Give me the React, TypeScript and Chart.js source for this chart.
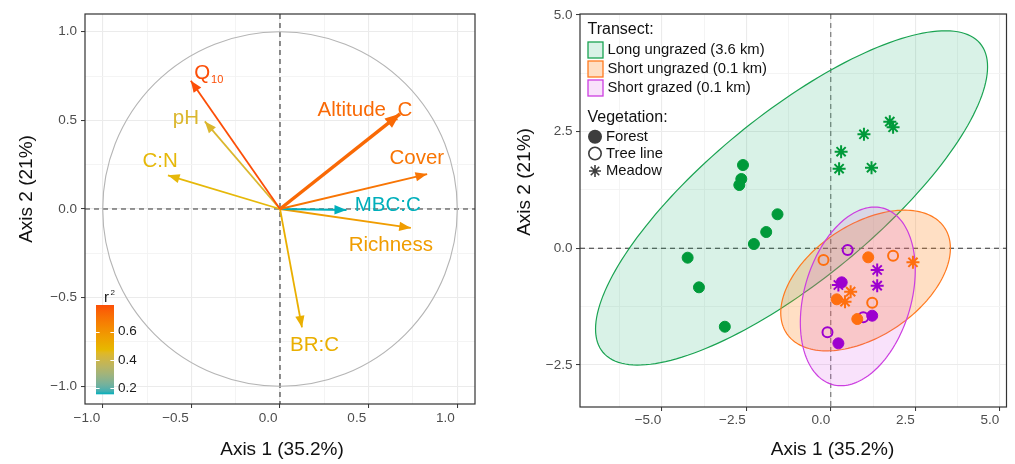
import React, { useEffect, useRef } from "react";
import { Chart, registerables } from "chart.js";

Chart.register(...registerables);

const FONT = "'Liberation Sans', Arial, Helvetica, sans-serif";

// ---------------- Left panel: variable loadings ----------------
const varNames = ["Q10", "pH", "C:N", "Altitude_C", "Cover", "MBC:C", "Richness", "BR:C"];
const varAxis1 = [-0.503, -0.424, -0.632, 0.677, 0.83, 0.375, 0.738, 0.124];
const varAxis2 = [0.724, 0.494, 0.19, 0.537, 0.197, -0.005, -0.107, -0.668];
const varR2 = [0.789, 0.44, 0.47, 0.726, 0.694, 0.158, 0.568, 0.505];
const labelAxis1 = [-0.402, -0.531, -0.676, 0.479, 0.772, 0.608, 0.625, 0.195];
const labelAxis2 = [0.777, 0.513, 0.267, 0.558, 0.285, 0.023, -0.203, -0.769];
const arrowWidths = [1.8, 1.8, 1.8, 3.5, 1.8, 2.0, 1.8, 1.8];
const loadingTicks = [-1, -0.5, 0, 0.5, 1];
const loadingMinorTicks = [-0.75, -0.25, 0.25, 0.75];
const r2Ticks = [0.2, 0.4, 0.6];
const gradientColors = ["#00AFBB", "#E7B800", "#FC4E07"];

// ---------------- Right panel: site scores ----------------
const transects = ["Long ungrazed (3.6 km)", "Short ungrazed (0.1 km)", "Short grazed (0.1 km)"];
const vegetationTypes = ["Forest", "Tree line", "Meadow"];
const siteAxis1 = [
  -2.597, -2.647, -2.706, -1.576, -1.91, -2.274, -4.235, -3.9, -3.135,
  0.306, 0.247, 0.982, 1.206, 1.747, 1.844,
  1.109, 0.177, 0.785, -0.215, 1.844, 1.226, 2.432, 0.588, 0.422,
  0.324, 1.226, 0.226, 0.5, 0.962, -0.097, 1.374, 1.374, 0.226,
];
const siteAxis2 = [
  1.784, 1.485, 1.356, 0.729, 0.349, 0.092, -0.201, -0.836, -1.68,
  2.07, 1.706, 2.443, 1.727, 2.713, 2.593,
  -0.193, -1.093, -1.515, -0.251, -0.158, -1.165, -0.3, -0.929, -1.143,
  -0.729, -1.444, -2.036, -0.036, -1.479, -1.8, -0.465, -0.8, -0.786,
];
const siteTransect = [
  0, 0, 0, 0, 0, 0, 0, 0, 0,
  0, 0, 0, 0, 0, 0,
  1, 1, 1, 1, 1, 1, 1, 1, 1,
  2, 2, 2, 2, 2, 2, 2, 2, 2,
];
const siteVegetation = [
  0, 0, 0, 0, 0, 0, 0, 0, 0,
  2, 2, 2, 2, 2, 2,
  0, 0, 0, 1, 1, 1, 2, 2, 2,
  0, 0, 0, 1, 1, 1, 2, 2, 2,
];
// 95% ellipses: centre and two conjugate semi-diameters (data units)
const ellipseCentreX = [-1.16, 1.03, 0.8];
const ellipseCentreY = [1.08, -0.69, -1.03];
const ellipseUX = [5.8, 2.51, 1.7];
const ellipseUY = [2.81, 0.69, 0.56];
const ellipseVX = [0, 0, 0];
const ellipseVY = [2.22, 1.34, 1.83];
const scoreXTicks = [-5, -2.5, 0, 2.5, 5];
const scoreXMinorTicks = [-6.25, -3.75, -1.25, 1.25, 3.75];
const scoreYTicks = [-2.5, 0, 2.5, 5];
const scoreYMinorTicks = [-1.25, 1.25, 3.75];

// styles
const transectColors = ["#009a3a", "#ff6f0f", "#9d00cf"];
const ellipseStrokes = ["#1aa352", "#ff7a1f", "#cc3ee0"];
const ellipseFills = ["rgba(0,168,95,0.15)", "rgba(255,128,20,0.25)", "rgba(215,60,225,0.15)"];

// ---------- colour helpers (Lab interpolation, like ggplot gradientn) ----------
function hexToRgb(h: string) {
  const n = parseInt(h.slice(1), 16);
  return [(n >> 16) & 255, (n >> 8) & 255, n & 255];
}
const toLin = (c: number) => {
  c /= 255;
  return c <= 0.04045 ? c / 12.92 : Math.pow((c + 0.055) / 1.055, 2.4);
};
const fromLin = (c: number) => {
  const v = c <= 0.0031308 ? 12.92 * c : 1.055 * Math.pow(Math.max(c, 0), 1 / 2.4) - 0.055;
  return Math.round(Math.min(1, Math.max(0, v)) * 255);
};
function rgbToLab(rgb: number[]) {
  const [r, g, b] = rgb.map(toLin);
  const X = (0.4124 * r + 0.3576 * g + 0.1805 * b) / 0.95047;
  const Y = 0.2126 * r + 0.7152 * g + 0.0722 * b;
  const Z = (0.0193 * r + 0.1192 * g + 0.9505 * b) / 1.08883;
  const f = (t: number) => (t > 0.008856 ? Math.cbrt(t) : 7.787 * t + 16 / 116);
  const fx = f(X), fy = f(Y), fz = f(Z);
  return [116 * fy - 16, 500 * (fx - fy), 200 * (fy - fz)];
}
function labToRgb(lab: number[]) {
  const [L, a, b] = lab;
  const fy = (L + 16) / 116, fx = fy + a / 500, fz = fy - b / 200;
  const inv = (t: number) => (t * t * t > 0.008856 ? t * t * t : (t - 16 / 116) / 7.787);
  const X = inv(fx) * 0.95047, Y = inv(fy), Z = inv(fz) * 1.08883;
  const r = 3.2406 * X - 1.5372 * Y - 0.4986 * Z;
  const g = -0.9689 * X + 1.8758 * Y + 0.0415 * Z;
  const bb = 0.0557 * X - 0.204 * Y + 1.057 * Z;
  return [fromLin(r), fromLin(g), fromLin(bb)];
}
const r2Min = Math.min(...varR2);
const r2Max = Math.max(...varR2);
function r2Color(v: number) {
  const n = gradientColors.length;
  const t = Math.min(1, Math.max(0, (v - r2Min) / (r2Max - r2Min))) * (n - 1);
  const i = Math.min(n - 2, Math.floor(t));
  const f = t - i;
  const a = rgbToLab(hexToRgb(gradientColors[i]));
  const b = rgbToLab(hexToRgb(gradientColors[i + 1]));
  const c = labToRgb([0, 1, 2].map((k) => a[k] + (b[k] - a[k]) * f));
  return `rgb(${c[0]},${c[1]},${c[2]})`;
}

// ---------- axis helper ----------
const fmt = (v: number) => (v < 0 ? "\u2212" : "") + Math.abs(v).toFixed(1);
function axis(
  min: number, max: number, major: number[], minor: number[], size: number,
  horizontal: boolean, pad: number, labelOffset = 0,
) {
  const isMajor = (v: number) => major.some((m) => Math.abs(m - v) < 1e-9);
  const all = [...major, ...minor].sort((a, b) => a - b);
  return {
    type: "linear",
    min,
    max,
    bounds: "data",
    afterBuildTicks: (s: any) => {
      s.ticks = all.map((v) => ({ value: v }));
    },
    afterFit: (s: any) => {
      if (horizontal) s.height = size;
      else s.width = size;
    },
    border: { display: false },
    grid: {
      color: (c: any) => (c.tick && isMajor(c.tick.value) ? "#ebebeb" : "#f3f3f3"),
      lineWidth: (c: any) => (c.tick && isMajor(c.tick.value) ? 1.1 : 0.9),
      tickColor: (c: any) => (c.tick && isMajor(c.tick.value) ? "#333333" : "rgba(0,0,0,0)"),
      tickLength: 4,
      tickWidth: 1,
      drawTicks: true,
    },
    ticks: {
      autoSkip: false,
      maxRotation: 0,
      minRotation: 0,
      padding: pad,
      align: horizontal ? "end" : "center",
      labelOffset,
      color: "#4d4d4d",
      font: { size: 13.5, family: FONT },
      callback: (v: number) => (isMajor(v) ? fmt(v) : ""),
    },
  };
}

function drawText(ctx: CanvasRenderingContext2D, text: string, x: number, y: number, size: number, color: string, align: CanvasTextAlign = "center", rot = 0) {
  ctx.save();
  ctx.translate(x, y);
  if (rot) ctx.rotate(rot);
  ctx.font = `${size}px ${FONT}`;
  ctx.fillStyle = color;
  ctx.textAlign = align;
  ctx.textBaseline = "middle";
  ctx.fillText(text, 0, 0);
  ctx.restore();
}

function drawPanelBorder(chart: any) {
  const { ctx, chartArea: a } = chart;
  ctx.save();
  ctx.strokeStyle = "#333333";
  ctx.lineWidth = 1.2;
  ctx.strokeRect(a.left, a.top, a.right - a.left, a.bottom - a.top);
  ctx.restore();
}

function drawZeroLines(chart: any, vColor: string, hColor: string) {
  const { ctx, chartArea: a, scales } = chart;
  const x0 = scales.x.getPixelForValue(0);
  const y0 = scales.y.getPixelForValue(0);
  ctx.save();
  ctx.setLineDash([5, 4]);
  ctx.lineWidth = 1.1;
  ctx.strokeStyle = vColor;
  ctx.beginPath();
  ctx.moveTo(x0, a.top);
  ctx.lineTo(x0, a.bottom);
  ctx.stroke();
  ctx.strokeStyle = hColor;
  ctx.beginPath();
  ctx.moveTo(a.left, y0);
  ctx.lineTo(a.right, y0);
  ctx.stroke();
  ctx.restore();
}

// ---------- left chart plugin ----------
const loadingsPlugin = {
  id: "loadings",
  beforeDatasetsDraw(chart: any) {
    const { ctx, scales } = chart;
    const { x, y } = scales;
    drawZeroLines(chart, "#333333", "#333333");
    // correlation circle
    const cx = x.getPixelForValue(0), cy = y.getPixelForValue(0);
    ctx.save();
    ctx.strokeStyle = "#b5b5b5";
    ctx.lineWidth = 1.1;
    ctx.beginPath();
    ctx.ellipse(cx, cy, x.getPixelForValue(1) - cx, cy - y.getPixelForValue(1), 0, 0, Math.PI * 2);
    ctx.stroke();
    ctx.restore();
    // labels
    varNames.forEach((name, i) => {
      const px = x.getPixelForValue(labelAxis1[i]);
      const py = y.getPixelForValue(labelAxis2[i]);
      const col = r2Color(varR2[i]);
      const m = name.match(/^([A-Za-z]+)(\d+)$/);
      if (m) {
        ctx.save();
        ctx.font = `20.5px ${FONT}`;
        const w1 = ctx.measureText(m[1]).width;
        ctx.font = `11px ${FONT}`;
        const w2 = ctx.measureText(m[2]).width;
        const left = px - (w1 + w2 + 1) / 2;
        ctx.fillStyle = col;
        ctx.textBaseline = "alphabetic";
        ctx.textAlign = "left";
        ctx.font = `20.5px ${FONT}`;
        ctx.fillText(m[1], left, py + 7.3);
        ctx.font = `11px ${FONT}`;
        ctx.fillText(m[2], left + w1 + 1, py + 11.5);
        ctx.restore();
      } else {
        drawText(ctx, name, px, py, 20.5, col);
      }
    });
  },
  afterDatasetsDraw(chart: any) {
    const { ctx } = chart;
    // arrow heads
    chart.data.datasets.forEach((ds: any, i: number) => {
      const meta = chart.getDatasetMeta(i);
      const p0 = meta.data[0], p1 = meta.data[1];
      const ang = Math.atan2(p1.y - p0.y, p1.x - p0.x);
      const len = 8 + 2 * ds.borderWidth;
      const hw = len * 0.4;
      ctx.save();
      ctx.translate(p1.x, p1.y);
      ctx.rotate(ang);
      ctx.fillStyle = ds.borderColor;
      ctx.beginPath();
      ctx.moveTo(0, 0);
      ctx.lineTo(-len, -hw);
      ctx.lineTo(-len, hw);
      ctx.closePath();
      ctx.fill();
      ctx.restore();
    });
  },
  afterDraw(chart: any) {
    const { ctx } = chart;
    drawPanelBorder(chart);
    // colour bar legend for r2
    const bx = 96, bw = 18, top = 305, bottom = 394.3;
    const vy = (v: number) => bottom - ((v - r2Min) / (r2Max - r2Min)) * (bottom - top);
    const grad = ctx.createLinearGradient(0, bottom, 0, top);
    for (let k = 0; k <= 30; k++) {
      const v = r2Min + ((r2Max - r2Min) * k) / 30;
      grad.addColorStop(k / 30, r2Color(v));
    }
    ctx.save();
    ctx.fillStyle = grad;
    ctx.fillRect(bx, top, bw, bottom - top);
    ctx.strokeStyle = "#ffffff";
    ctx.lineWidth = 1;
    r2Ticks.forEach((t) => {
      const yy = Math.round(vy(t)) + 0.5;
      ctx.beginPath();
      ctx.moveTo(bx, yy);
      ctx.lineTo(bx + 3.6, yy);
      ctx.moveTo(bx + bw - 3.6, yy);
      ctx.lineTo(bx + bw, yy);
      ctx.stroke();
      drawText(ctx, t.toFixed(1), 118, vy(t), 13.5, "#1a1a1a", "left");
    });
    ctx.fillStyle = "#1a1a1a";
    ctx.textAlign = "left";
    ctx.textBaseline = "alphabetic";
    ctx.font = `15px ${FONT}`;
    ctx.fillText("r", 104, 301.5);
    ctx.font = `8px ${FONT}`;
    ctx.fillText("2", 110.5, 295);
    ctx.restore();
    // axis titles
    drawText(ctx, "Axis 1 (35.2%)", 282, 450, 19, "#111111");
    drawText(ctx, "Axis 2 (21%)", 26.5, 189, 19, "#111111", "center", -Math.PI / 2);
  },
};

// ---------- right chart plugin ----------
const scoresPlugin = {
  id: "scores",
  beforeDatasetsDraw(chart: any) {
    const { ctx, scales } = chart;
    const { x, y } = scales;
    drawZeroLines(chart, "#707070", "#333333");
    ctx.save();
    transects.forEach((_, i) => {
      ctx.beginPath();
      const N = 180;
      for (let k = 0; k <= N; k++) {
        const t = (k / N) * Math.PI * 2;
        const dx = ellipseCentreX[i] + ellipseUX[i] * Math.cos(t) + ellipseVX[i] * Math.sin(t);
        const dy = ellipseCentreY[i] + ellipseUY[i] * Math.cos(t) + ellipseVY[i] * Math.sin(t);
        const px = x.getPixelForValue(dx), py = y.getPixelForValue(dy);
        if (k === 0) ctx.moveTo(px, py);
        else ctx.lineTo(px, py);
      }
      ctx.closePath();
      ctx.fillStyle = ellipseFills[i];
      ctx.fill();
      ctx.strokeStyle = ellipseStrokes[i];
      ctx.lineWidth = 1.2;
      ctx.stroke();
    });
    ctx.restore();
  },
  afterDraw(chart: any) {
    const { ctx } = chart;
    drawPanelBorder(chart);
    // legend
    const lx = 87.5;
    drawText(ctx, "Transect:", lx, 30, 16, "#111111", "left");
    transects.forEach((t, i) => {
      const cy = 49.5 + i * 19;
      ctx.save();
      ctx.fillStyle = "#ffffff";
      ctx.fillRect(lx + 0.5, cy - 7.5, 15, 16);
      ctx.fillStyle = ellipseFills[i];
      ctx.fillRect(lx + 0.5, cy - 7.5, 15, 16);
      ctx.strokeStyle = ellipseStrokes[i];
      ctx.lineWidth = 1.3;
      ctx.strokeRect(lx + 0.5, cy - 7.5, 15, 16);
      ctx.restore();
      drawText(ctx, t, lx + 20, cy, 14.8, "#111111", "left");
    });
    drawText(ctx, "Vegetation:", lx, 117.5, 16, "#111111", "left");
    const sx = lx + 7.5;
    vegetationTypes.forEach((v, i) => {
      const cy = [136.7, 153.5, 171][i];
      ctx.save();
      ctx.fillStyle = "#3d3d3d";
      ctx.strokeStyle = "#3d3d3d";
      if (i === 0) {
        ctx.beginPath();
        ctx.arc(sx, cy, 7, 0, Math.PI * 2);
        ctx.fill();
      } else if (i === 1) {
        ctx.lineWidth = 1.6;
        ctx.beginPath();
        ctx.arc(sx, cy, 6.2, 0, Math.PI * 2);
        ctx.stroke();
      } else {
        ctx.lineWidth = 1.6;
        ctx.beginPath();
        for (let k = 0; k < 4; k++) {
          const a = (k * Math.PI) / 4;
          ctx.moveTo(sx - 6 * Math.cos(a), cy - 6 * Math.sin(a));
          ctx.lineTo(sx + 6 * Math.cos(a), cy + 6 * Math.sin(a));
        }
        ctx.stroke();
      }
      ctx.restore();
      drawText(ctx, v, lx + 18.5, cy, 14.8, "#111111", "left");
    });
    // axis titles
    drawText(ctx, "Axis 1 (35.2%)", 332.5, 450, 19, "#111111");
    drawText(ctx, "Axis 2 (21%)", 25, 182, 19, "#111111", "center", -Math.PI / 2);
  },
};

function leftConfig(): any {
  const datasets = varNames.map((n, i) => ({
    label: n,
    data: [
      { x: 0, y: 0 },
      { x: varAxis1[i], y: varAxis2[i] },
    ],
    showLine: true,
    borderColor: r2Color(varR2[i]),
    backgroundColor: r2Color(varR2[i]),
    borderWidth: arrowWidths[i],
    pointRadius: 0,
    pointHoverRadius: 0,
    fill: false,
    clip: false,
  }));
  return {
    type: "scatter",
    data: { datasets },
    options: {
      responsive: false,
      animation: false,
      events: [],
      layout: { padding: { top: 14, right: 25, left: 0, bottom: 0 } },
      plugins: { legend: { display: false }, tooltip: { enabled: false } },
      scales: {
        x: axis(-1.1, 1.1, loadingTicks, loadingMinorTicks, 60, true, 2, -2.5),
        y: axis(-1.1, 1.1, loadingTicks, loadingMinorTicks, 85, false, 4),
      },
    },
    plugins: [loadingsPlugin],
  };
}

function rightConfig(): any {
  const datasets: any[] = [];
  transects.forEach((t, ti) => {
    vegetationTypes.forEach((v, vi) => {
      const pts: { x: number; y: number }[] = [];
      siteAxis1.forEach((sx, k) => {
        if (siteTransect[k] === ti && siteVegetation[k] === vi) pts.push({ x: sx, y: siteAxis2[k] });
      });
      if (!pts.length) return;
      const col = transectColors[ti];
      datasets.push({
        label: `${t} - ${v}`,
        data: pts,
        pointStyle: vi === 2 ? "star" : "circle",
        pointRadius: vi === 0 ? 5.5 : vi === 1 ? 5 : 6.5,
        pointBorderWidth: vi === 0 ? 1 : 2,
        borderWidth: vi === 0 ? 1 : 2,
        borderColor: col,
        pointBorderColor: col,
        backgroundColor: vi === 0 ? col : "rgba(0,0,0,0)",
        pointBackgroundColor: vi === 0 ? col : "rgba(0,0,0,0)",
        pointHoverRadius: 0,
      });
    });
  });
  return {
    type: "scatter",
    data: { datasets },
    options: {
      responsive: false,
      animation: false,
      events: [],
      layout: { padding: { top: 14, right: 6, left: 0, bottom: 0 } },
      plugins: { legend: { display: false }, tooltip: { enabled: false } },
      scales: {
        x: axis(-7.42, 5.2, scoreXTicks, scoreXMinorTicks, 57, true, 1, -0.5),
        y: axis(-3.4, 5.02, scoreYTicks, scoreYMinorTicks, 80, false, 3.5),
      },
    },
    plugins: [scoresPlugin],
  };
}

export default function App() {
  const leftRef = useRef<HTMLCanvasElement>(null);
  const rightRef = useRef<HTMLCanvasElement>(null);
  useEffect(() => {
    document.body.style.margin = "0";
    Chart.defaults.font.family = FONT;
    const c1 = new Chart(leftRef.current as HTMLCanvasElement, leftConfig());
    const c2 = new Chart(rightRef.current as HTMLCanvasElement, rightConfig());
    return () => {
      c1.destroy();
      c2.destroy();
    };
  }, []);
  return (
    <div style={{ position: "absolute", left: 0, top: 0, width: 1015, height: 464, background: "#ffffff" }}>
      <canvas ref={leftRef} width={500} height={464} style={{ position: "absolute", left: 0, top: 0 }} />
      <canvas ref={rightRef} width={515} height={464} style={{ position: "absolute", left: 500, top: 0 }} />
    </div>
  );
}
